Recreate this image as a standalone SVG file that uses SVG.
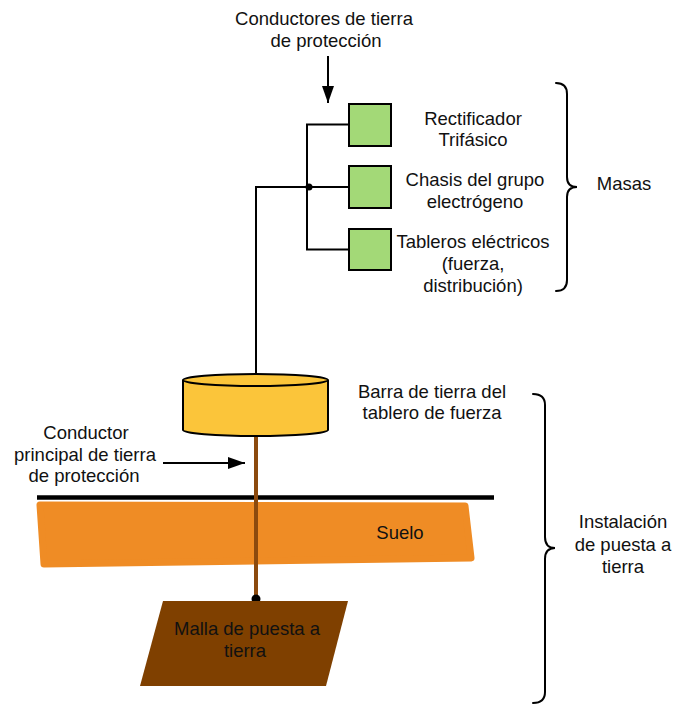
<svg xmlns="http://www.w3.org/2000/svg" width="676" height="704" viewBox="0 0 676 704">
  <defs>
    <marker id="arrow" markerUnits="userSpaceOnUse" markerWidth="18" markerHeight="13" refX="17" refY="6" orient="auto">
      <path d="M0,0 L17,6 L0,12 z" fill="#000"/>
    </marker>
    <style>
      text { font-family: "Liberation Sans", Arial, sans-serif; font-size: 18.5px; fill: #111; text-anchor: middle; }
      .wire { stroke: #000; stroke-width: 2; fill: none; }
      .box { fill: #A3D977; stroke: #000; stroke-width: 2; }
      .brace { stroke: #000; stroke-width: 2; fill: none; stroke-linecap: round; }
    </style>
  </defs>
  <rect width="676" height="704" fill="#fff"/>

  <!-- soil and ground line -->
  <g id="suelo">
    <polygon points="40,505 465,506 471,558 44,564" fill="#EF8C25" stroke="#EF8C25" stroke-width="7" stroke-linejoin="round"/>
    <text x="400" y="539">Suelo</text>
  </g>
  <g id="nivel-terreno">
    <line x1="37" y1="497.5" x2="494" y2="497.5" stroke="#000" stroke-width="4.5"/>
  </g>

  <!-- connectors -->
  <g id="conectores">
    <line class="wire" x1="328" y1="56" x2="328" y2="103" marker-end="url(#arrow)"/>
    <line class="wire" x1="163" y1="463" x2="245" y2="463" marker-end="url(#arrow)"/>
    <polyline class="wire" points="349,124.5 307,124.5 307,249.5 349,249.5"/>
    <line class="wire" x1="307" y1="187" x2="349" y2="187"/>
    <polyline class="wire" points="309,187 256,187 256,375"/>
    <line x1="256" y1="436" x2="256" y2="599" stroke="#8C4A0E" stroke-width="4"/>
    <circle cx="309" cy="187" r="3.5" fill="#000"/>
    <circle cx="256" cy="599" r="4.5" fill="#000"/>
  </g>

  <!-- equipment masses -->
  <g id="rectificador">
    <rect class="box" x="349" y="104" width="42" height="42"/>
    <text x="473" y="125">Rectificador</text>
    <text x="473" y="146">Trifásico</text>
  </g>
  <g id="chasis">
    <rect class="box" x="349" y="166" width="42" height="42"/>
    <text x="475" y="186">Chasis del grupo</text>
    <text x="475" y="207.5">electrógeno</text>
  </g>
  <g id="tableros">
    <rect class="box" x="349" y="229" width="42" height="41"/>
    <text x="473" y="248">Tableros eléctricos</text>
    <text x="473" y="270">(fuerza,</text>
    <text x="473" y="292">distribución)</text>
  </g>

  <!-- earth bar -->
  <g id="barra-tierra">
    <path d="M183,380 L183,430 A72.5,6 0 0 0 328,430 L328,380" fill="#FBC53A" stroke="#000" stroke-width="2"/>
    <ellipse cx="255.5" cy="380" rx="72.5" ry="6" fill="#FBC53A" stroke="#000" stroke-width="2"/>
    <text x="432" y="398">Barra de tierra del</text>
    <text x="432" y="419">tablero de fuerza</text>
  </g>

  <!-- earthing grid -->
  <g id="malla">
    <polygon points="163,601 348,601 326,686 140,686" fill="#7F4000"/>
    <text x="247" y="635">Malla de puesta a</text>
    <text x="245" y="657">tierra</text>
  </g>

  <!-- free labels -->
  <g id="conductores-tierra">
    <text x="324" y="25">Conductores de tierra</text>
    <text x="326" y="47">de protección</text>
  </g>
  <g id="conductor-principal">
    <text x="86" y="439">Conductor</text>
    <text x="85" y="461">principal de tierra</text>
    <text x="84" y="482">de protección</text>
  </g>

  <!-- braces -->
  <g id="masas">
    <path class="brace" d="M556,83 Q567,83 567,94 L567,177 Q567,187 577,187 Q567,187 567,197 L567,280 Q567,291 556,291"/>
    <text x="624" y="190">Masas</text>
  </g>
  <g id="instalacion">
    <path class="brace" d="M533,394 Q545,394 545,405 L545,537 Q545,548 555,548 Q545,548 545,559 L545,692 Q545,703 533,703"/>
    <text x="623" y="528">Instalación</text>
    <text x="623" y="551">de puesta a</text>
    <text x="623" y="573">tierra</text>
  </g>
</svg>
